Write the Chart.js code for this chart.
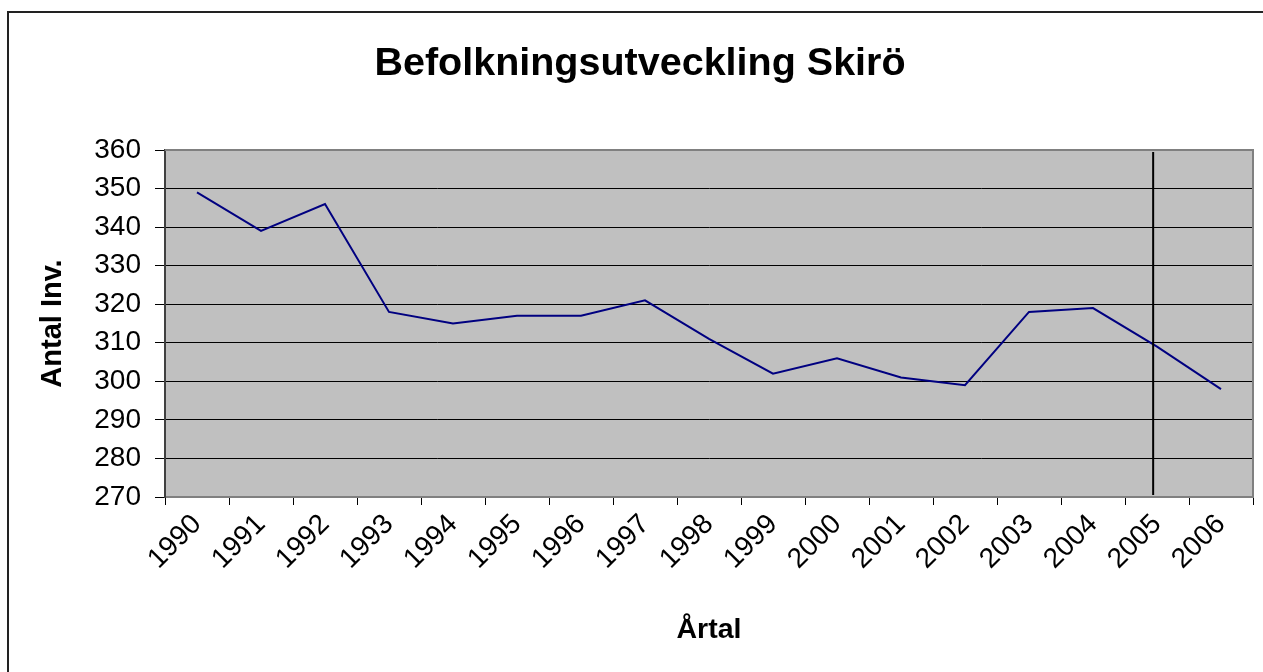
<!DOCTYPE html>
<html>
<head>
<meta charset="utf-8">
<script src="https://cdn.jsdelivr.net/npm/chart.js@4"></script>
<style>
  html, body { margin: 0; padding: 0; background: #fff; overflow: hidden; }
  #wrap { position: relative; width: 1263px; height: 672px; }
  #frame { position: absolute; left: 7px; top: 11px; width: 1300px; height: 700px;
           border-left: 2px solid #222; border-top: 2px solid #222; }
  canvas { position: absolute; left: 0; top: 0; }
</style>
</head>
<body>
<div id="wrap">
  <div id="frame"></div>
  <canvas id="myChart" width="1263" height="672"></canvas>
</div>
<script>
const years = ["1990", "1991", "1992", "1993", "1994", "1995", "1996", "1997", "1998",
               "1999", "2000", "2001", "2002", "2003", "2004", "2005", "2006"];
const inhabitants = [349, 339, 346, 318, 315, 317, 317, 321, 311,
                     302, 306, 301, 299, 318, 319, 309, 298];
const yMin = 270;
const yMax = 360;
const yStep = 10;
const markerYear = "2005";

const font = "'Liberation Sans', Arial, sans-serif";

// grey plot area, Excel style
const plotArea = {
    id: "plotArea",
    beforeDraw(chart) {
        const a = chart.chartArea;
        const ctx = chart.ctx;
        ctx.save();
        ctx.fillStyle = "#c0c0c0";
        ctx.fillRect(a.left, a.top, a.right - a.left, a.bottom - a.top);
        ctx.restore();
    },
    beforeDatasetsDraw(chart) {
        const a = chart.chartArea;
        const ctx = chart.ctx;
        ctx.save();
        ctx.strokeStyle = "#808080";
        ctx.lineWidth = 2;
        ctx.beginPath();
        ctx.moveTo(a.left, a.top);
        ctx.lineTo(a.right, a.top);
        ctx.lineTo(a.right, a.bottom);
        ctx.stroke();
        ctx.restore();
    },
    afterDatasetsDraw(chart) {
        const a = chart.chartArea;
        const x = chart.scales.x;
        const i = years.indexOf(markerYear);
        const step = x.getPixelForValue(1) - x.getPixelForValue(0);
        const px = x.getPixelForValue(i) - step * 0.06;
        const ctx = chart.ctx;
        ctx.save();
        ctx.strokeStyle = "#000";
        ctx.lineWidth = 2;
        ctx.beginPath();
        ctx.moveTo(px, a.top + 2);
        ctx.lineTo(px, a.bottom - 2);
        ctx.stroke();
        ctx.restore();
    }
};

new Chart("myChart", {
    type: "line",
    data: {
        labels: years,
        datasets: [{
            data: inhabitants,
            borderColor: "#000080",
            borderWidth: 2,
            pointRadius: 0,
            tension: 0,
            fill: false
        }]
    },
    plugins: [plotArea],
    options: {
        responsive: false,
        animation: false,
        layout: { padding: { left: 27, right: 10, top: 0, bottom: 0 } },
        plugins: {
            legend: { display: false },
            tooltip: { enabled: false },
            title: {
                display: true,
                text: "Befolkningsutveckling Skirö",
                color: "#000",
                font: { family: font, size: 39.5, weight: "bold" },
                padding: { top: 40, bottom: 62.6 }
            }
        },
        scales: {
            x: {
                offset: true,
                afterFit(s) { s.height = 175; },
                grid: {
                    offset: true,
                    drawOnChartArea: false,
                    drawTicks: true,
                    tickLength: 8,
                    color: "#000"
                },
                border: { color: "#808080", width: 2 },
                ticks: {
                    autoSkip: false,
                    minRotation: 45,
                    maxRotation: 45,
                    padding: 3,
                    color: "#000",
                    font: { family: font, size: 28 }
                },
                title: {
                    display: true,
                    text: "Årtal",
                    color: "#000",
                    font: { family: font, size: 28.5, weight: "bold" },
                    padding: { top: 0, bottom: 25 }
                }
            },
            y: {
                min: yMin,
                max: yMax,
                afterFit(s) { s.width = 138; },
                grid: {
                    color: (c) => (c.tick && c.tick.value === yMax) ? "rgba(0,0,0,0)" : "#000",
                    lineWidth: 1,
                    tickColor: "#000",
                    tickLength: 10
                },
                border: { color: "#404040", width: 2 },
                ticks: {
                    stepSize: yStep,
                    padding: 14,
                    color: "#000",
                    font: { family: font, size: 28 }
                },
                title: {
                    display: true,
                    text: "Antal Inv.",
                    color: "#000",
                    font: { family: font, size: 29, weight: "bold" },
                    padding: { top: 9, bottom: 0 }
                }
            }
        }
    }
});
</script>
</body>
</html>
